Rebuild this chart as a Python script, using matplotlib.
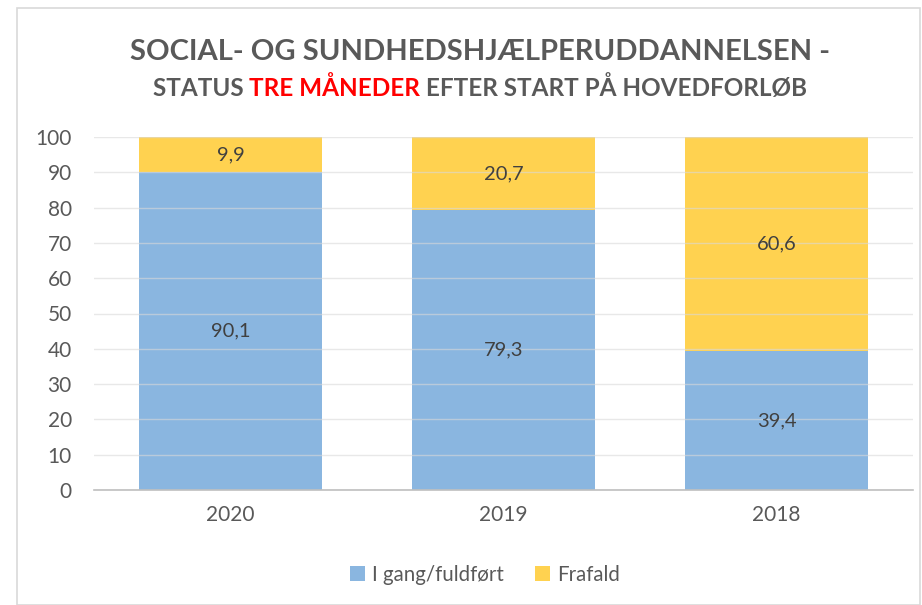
import matplotlib
matplotlib.use("Agg")
import matplotlib.pyplot as plt
from matplotlib.patches import Rectangle

plt.rcParams['font.family'] = ['Lato', 'DejaVu Sans']

years = ['2020', '2019', '2018']
i_gang = [90.1, 79.3, 39.4]
frafald = [9.9, 20.7, 60.6]
labels_i = ['90,1', '79,3', '39,4']
labels_f = ['9,9', '20,7', '60,6']
series_names = ['I gang/fuldført', 'Frafald']
yticks = [0, 10, 20, 30, 40, 50, 60, 70, 80, 90, 100]

blue = '#8AB6E0'
yellow = '#FFD250'
textc = '#595959'

fig = plt.figure(figsize=(9.22, 6.05), dpi=100)
fig.patches.append(Rectangle((17/922, 0), 1 - 17/922 - 2/922, 1 - 8/605, transform=fig.transFigure,
                             fill=False, edgecolor='#D9D9D9', linewidth=1.2))
ax = fig.add_axes([94/922, 1 - 490/605, (913-94)/922, (490-137)/605])

x = range(len(years))
b1 = ax.bar(x, i_gang, width=0.67, color=blue, label=series_names[0], zorder=2)
b2 = ax.bar(x, frafald, width=0.67, bottom=i_gang, color=yellow, label=series_names[1], zorder=2)

for i in x:
    ax.text(i, i_gang[i] / 2, labels_i[i], ha='center', va='center', fontsize=14.5, color='#404040', zorder=4)
    ax.text(i, i_gang[i] + frafald[i] / 2, labels_f[i], ha='center', va='center', fontsize=14.5, color='#404040', zorder=4)

ax.set_ylim(0, 100)
ax.set_xlim(-0.5, 2.5)
ax.set_yticks(yticks)
ax.set_xticks(list(x))
ax.set_xticklabels(years)
ax.tick_params(axis='both', length=0, labelsize=15, labelcolor=textc)
ax.tick_params(axis='y', pad=16)
ax.tick_params(axis='x', pad=11)
ax.grid(axis='y', color='#D9D9D9', linewidth=1, zorder=3, alpha=0.6)
ax.set_axisbelow(False)
for s in ['top', 'right', 'left']:
    ax.spines[s].set_visible(False)
ax.spines['bottom'].set_color('#BFBFBF')
ax.spines['bottom'].set_linewidth(1.2)
ax.spines['bottom'].set_zorder(5)

cx = 480 / 922
fig.text(cx, 1 - 52/605, 'SOCIAL- OG SUNDHEDSHJÆLPERUDDANNELSEN -', ha='center', va='center',
         fontsize=21, fontweight='bold', color=textc)
# second line with red part
y2 = 1 - 88/605
parts = [('STATUS ', textc), ('TRE MÅNEDER', '#FF0000'), (' EFTER START PÅ HOVEDFORLØB', textc)]
fig.canvas.draw()
renderer = fig.canvas.get_renderer()
texts = []
widths = []
for s, c in parts:
    t = fig.text(0, y2, s, ha='left', va='center', fontsize=17.5, fontweight='bold', color=c)
    texts.append(t)
    bb = t.get_window_extent(renderer=renderer)
    widths.append(bb.width)
total = sum(widths)
start = cx * fig.bbox.width - total / 2
for t, w in zip(texts, widths):
    t.set_x(start / fig.bbox.width)
    start += w

leg = fig.legend(handles=[b1, b2], labels=series_names, loc='center', bbox_to_anchor=(485/922, 1 - 575/605),
                 ncol=2, frameon=False, fontsize=14.8, handlelength=0.75, handleheight=0.75,
                 handletextpad=0.35, columnspacing=1.5)
for t in leg.get_texts():
    t.set_color(textc)

fig.savefig('out.png', dpi=100)
